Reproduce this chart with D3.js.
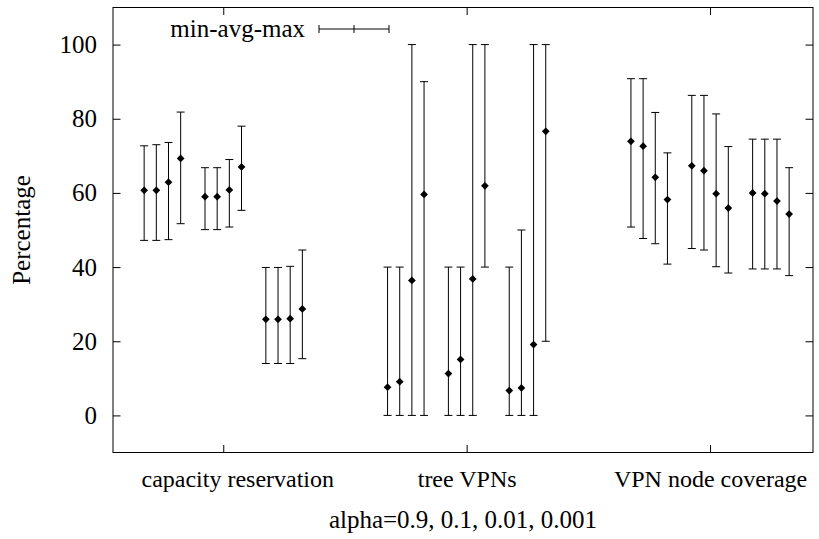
<!DOCTYPE html>
<html>
<head>
<meta charset="utf-8">
<script src="https://cdn.jsdelivr.net/npm/d3@7"></script>
<style>
  html, body { margin: 0; padding: 0; background: #fff; }
  svg { display: block; }
  svg text { font-family: "Liberation Serif", "Times New Roman", Times, serif; font-size: 25px; fill: #000; }
  svg .cat text { font-size: 24px; }
</style>
</head>
<body>
<svg id="chart" width="819" height="539"></svg>
<script>
// Experiment groups shown along the x axis
const categories = ["capacity reservation", "tree VPNs", "VPN node coverage"];
// Alpha settings; each cluster holds one bar per alpha
const alphas = ["0.9", "0.1", "0.01", "0.001"];
// Three sub-experiments (clusters) per group
const clusterCount = 3;
const yTicks = [0, 20, 40, 60, 80, 100];

// Values ordered by group, then cluster, then alpha
const avgValues = [
  // capacity reservation
  60.7, 60.7, 62.9, 69.3,
  59.0, 59.0, 60.8, 67.0,
  25.9, 25.9, 26.1, 28.7,
  // tree VPNs
  7.6, 9.1, 36.4, 59.6,
  11.3, 15.1, 36.8, 61.9,
  6.7, 7.4, 19.1, 76.6,
  // VPN node coverage
  73.9, 72.6, 64.2, 58.2,
  67.3, 66.0, 59.8, 55.9,
  60.0, 59.8, 57.8, 54.3
];
const minValues = [
  47.2, 47.2, 47.4, 51.7,
  50.1, 50.1, 50.8, 55.3,
  14.0, 14.0, 14.0, 15.3,
  0, 0, 0, 0,
  0, 0, 0, 40.0,
  0, 0, 0, 20.0,
  50.8, 47.7, 46.3, 40.8,
  45.0, 44.6, 40.1, 38.4,
  39.5, 39.5, 39.5, 37.7
];
const maxValues = [
  72.7, 73.0, 73.6, 81.8,
  66.8, 66.8, 69.0, 78.0,
  39.9, 39.9, 40.2, 44.6,
  40.0, 40.0, 100, 90.0,
  40.0, 40.0, 100, 100,
  40.0, 50.0, 100, 100,
  90.8, 90.8, 81.7, 70.8,
  86.3, 86.3, 81.3, 72.5,
  74.5, 74.5, 74.5, 66.8
];

const svg = d3.select("#chart");
const margin = { left: 113, right: 813, top: 7.5, bottom: 452.5 };

const x = d3.scaleLinear().domain([0.547, 3.423]).range([margin.left, margin.right]);
const y = d3.scaleLinear().domain([-10, 110]).range([margin.bottom, margin.top]);

const clusterGap = 0.25, barGap = 0.05;
const records = avgValues.map((v, k) => {
  const g = Math.floor(k / (clusterCount * alphas.length));
  const c = Math.floor(k / alphas.length) % clusterCount;
  const a = k % alphas.length;
  const pos = (g + 1) + (c - 1) * clusterGap + (a - (alphas.length - 1) / 2) * barGap;
  return { pos, avg: v, min: minValues[k], max: maxValues[k] };
});

const tickLen = 7.5;

// Frame
svg.append("rect")
  .attr("x", margin.left).attr("y", margin.top)
  .attr("width", margin.right - margin.left)
  .attr("height", margin.bottom - margin.top)
  .attr("fill", "none").attr("stroke", "#000").attr("stroke-width", 1);

// Strip the axis generator's own font settings so the stylesheet applies
function plain(g) {
  g.attr("font-family", null).attr("font-size", null);
  g.select(".domain").remove();
  g.selectAll(".tick line").attr("stroke", "#000");
  return g;
}

// Y axis ticks (mirrored on both sides) and labels
svg.append("g").attr("transform", `translate(${margin.left},0)`)
  .call(d3.axisLeft(y).tickValues(yTicks).tickSize(-tickLen).tickPadding(tickLen + 8.5))
  .call(plain);
svg.append("g").attr("transform", `translate(${margin.right},0)`)
  .call(d3.axisRight(y).tickValues(yTicks).tickSize(-tickLen).tickFormat(""))
  .call(plain);

// X axis ticks (mirrored top and bottom) and category labels;
// the leftmost label is nudged right so it clears the y-axis labels
const gx = svg.append("g").attr("class", "cat").attr("transform", `translate(0,${margin.bottom})`)
  .call(d3.axisBottom(x).tickValues([1, 2, 3]).tickSize(-tickLen)
    .tickPadding(17.5).tickFormat((d) => categories[d - 1]))
  .call(plain);
gx.selectAll(".tick text").attr("dx", (d) => (d === 1 ? 14 : 0));
svg.append("g").attr("transform", `translate(0,${margin.top})`)
  .call(d3.axisTop(x).tickValues([1, 2, 3]).tickSize(-tickLen).tickFormat(""))
  .call(plain);

// Axis titles
svg.append("text")
  .attr("transform", `translate(30,${(margin.top + margin.bottom) / 2}) rotate(-90)`)
  .attr("text-anchor", "middle").text("Percentage");
svg.append("text")
  .attr("x", (margin.left + margin.right) / 2).attr("y", 528)
  .attr("text-anchor", "middle")
  .text("alpha=" + alphas.join(", "));

// Error bars: min-max whisker with caps, diamond at the average
const capHalf = 4;
const bars = svg.append("g").attr("stroke", "#000").attr("stroke-width", 1);
bars.selectAll("g.bar").data(records).join("g").attr("class", "bar").each(function (d) {
  const gsel = d3.select(this);
  const px = x(d.pos);
  gsel.append("line").attr("x1", px).attr("x2", px).attr("y1", y(d.min)).attr("y2", y(d.max));
  gsel.append("line").attr("x1", px - capHalf).attr("x2", px + capHalf).attr("y1", y(d.min)).attr("y2", y(d.min));
  gsel.append("line").attr("x1", px - capHalf).attr("x2", px + capHalf).attr("y1", y(d.max)).attr("y2", y(d.max));
});

// Square diamond (equal width and height) for the average marker
const squareDiamond = {
  draw(ctx, size) {
    const r = Math.sqrt(size / 2);
    ctx.moveTo(0, -r);
    ctx.lineTo(r, 0);
    ctx.lineTo(0, r);
    ctx.lineTo(-r, 0);
    ctx.closePath();
  }
};
svg.append("g").selectAll("path").data(records).join("path")
  .attr("d", d3.symbol(squareDiamond, 30))
  .attr("transform", (d) => `translate(${x(d.pos)},${y(d.avg)})`)
  .attr("fill", "#000");

// Legend
const ly = 29, lx0 = 319, lx1 = 389;
svg.append("text").attr("x", 305).attr("y", ly + 8).attr("text-anchor", "end")
  .text("min-avg-max");
const lg = svg.append("g").attr("stroke", "#000").attr("stroke-width", 1);
lg.append("line").attr("x1", lx0).attr("x2", lx1).attr("y1", ly).attr("y2", ly);
[lx0, (lx0 + lx1) / 2, lx1].forEach((lx) => {
  lg.append("line").attr("x1", lx).attr("x2", lx).attr("y1", ly - 4).attr("y2", ly + 4);
});
</script>
</body>
</html>
